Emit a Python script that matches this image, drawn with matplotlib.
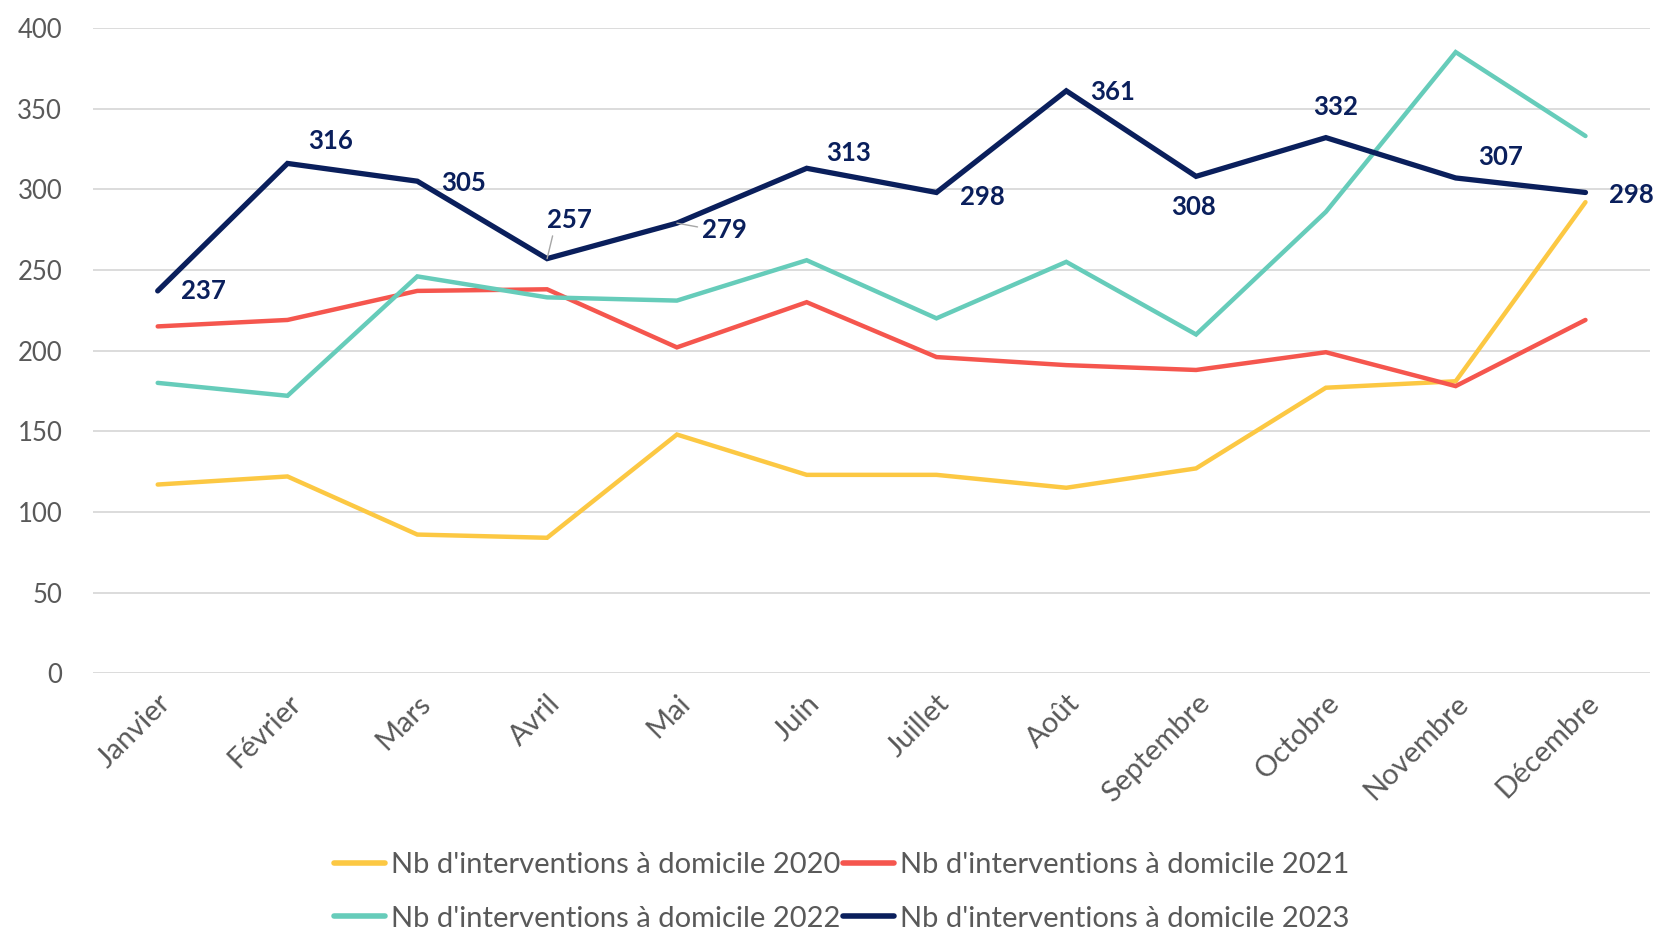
import matplotlib
matplotlib.use("Agg")
import matplotlib.pyplot as plt

months = ["Janvier", "Février", "Mars", "Avril", "Mai", "Juin", "Juillet",
          "Août", "Septembre", "Octobre", "Novembre", "Décembre"]
v2020 = [117, 122, 86, 84, 148, 123, 123, 115, 127, 177, 181, 292]
v2021 = [215, 219, 237, 238, 202, 230, 196, 191, 188, 199, 178, 219]
v2022 = [180, 172, 246, 233, 231, 256, 220, 255, 210, 286, 385, 333]
v2023 = [237, 316, 305, 257, 279, 313, 298, 361, 308, 332, 307, 298]
series_names = ["Nb d'interventions à domicile 2020",
                "Nb d'interventions à domicile 2021",
                "Nb d'interventions à domicile 2022",
                "Nb d'interventions à domicile 2023"]
y_ticks = [0, 50, 100, 150, 200, 250, 300, 350, 400]

plt.rcParams['font.family'] = ['Lato', 'DejaVu Sans']

fig = plt.figure(figsize=(16.57, 9.30), dpi=100)
ax = fig.add_axes([0.056, 0.276, 0.940, 0.694])

x = list(range(len(months)))
colors = ["#FCC843", "#F5564E", "#66CCBA", "#0A1F5C"]
widths = [3.2, 3.2, 3.2, 3.8]
lines = []
for vals, name, c, lw in zip([v2020, v2021, v2022, v2023], series_names, colors, widths):
    ln, = ax.plot(x, vals, color=c, lw=lw, label=name, solid_capstyle='round',
                  solid_joinstyle='miter', zorder=3)
    lines.append(ln)

# data labels for 2023 (offsets in points)
offsets = [(33, 0), (31, 16), (33, -1), (16, 28), (34, -5), (30, 11),
           (33, -3), (33, -1), (-2, -22), (7, 22), (32, 15), (33, -2)]
leaders = {3: (0.15, 0.0), 4: (0.0, 0.6)}
for i, (v, off) in enumerate(zip(v2023, offsets)):
    kw = {}
    if i in leaders:
        kw['arrowprops'] = dict(arrowstyle='-', color='#A6A6A6', lw=1.0,
                                shrinkA=1, shrinkB=0, relpos=leaders[i])
    ax.annotate(str(v), (i, v), xytext=off, textcoords='offset points',
                ha='center', va='center', fontsize=18.5, fontweight='bold',
                color="#0A1F5C", zorder=4, **kw)

ax.set_xlim(-0.5, 11.5)
ax.set_ylim(0, 400)
ax.set_yticks(y_ticks)
ax.set_xticks(x)
ax.set_xticklabels(months, rotation=45, ha='right', rotation_mode='anchor')
ax.tick_params(axis='both', length=0, labelcolor='#595959')
ax.tick_params(axis='x', pad=12, labelsize=21)
ax.tick_params(axis='y', pad=22, labelsize=18.5)
ax.grid(axis='y', color='#D9D9D9', lw=1.3)
ax.set_axisbelow(True)
for s in ax.spines.values():
    s.set_visible(False)

order = [0, 2, 1, 3]
leg = fig.legend([lines[i] for i in order], [series_names[i] for i in order],
                 loc='lower center', bbox_to_anchor=(0.508, -0.03), ncol=2,
                 frameon=False, fontsize=21, handlelength=1.75, handletextpad=0.2,
                 columnspacing=0.1, labelspacing=0.95)
for t in leg.get_texts():
    t.set_color('#595959')
for h in leg.get_lines():
    h.set_linewidth(4.0)

fig.savefig("out.png", dpi=100)
